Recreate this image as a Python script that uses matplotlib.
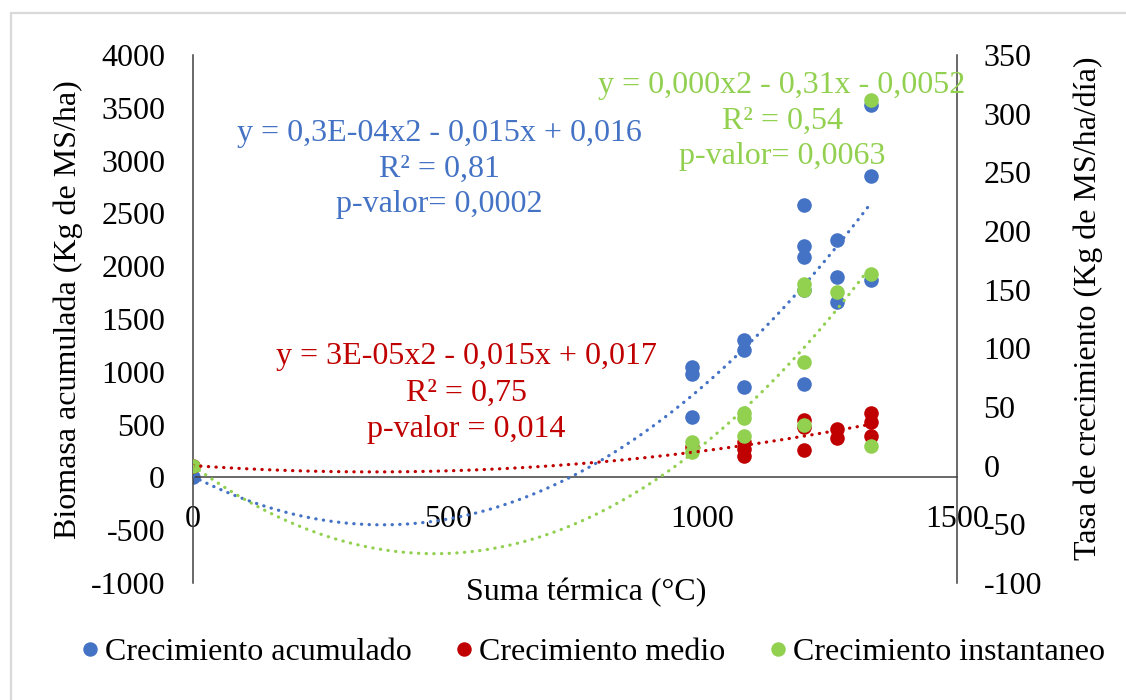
import numpy as np
import matplotlib
matplotlib.use("Agg")
import matplotlib.pyplot as plt
from matplotlib.lines import Line2D
from matplotlib.patches import Rectangle

plt.rcParams['font.family'] = ['Liberation Serif', 'DejaVu Serif']
plt.rcParams['axes.unicode_minus'] = False

# data: suma termica (°C) vs. biomasa / tasa de crecimiento
x_acum = [0, 980, 980, 980, 1082, 1082, 1082, 1200, 1200, 1200, 1200, 1200,
          1264, 1264, 1264, 1331, 1331, 1331]
y_acum = [0, 1041, 975, 568, 1297, 1203, 852, 2576, 2188, 2083, 1770, 880,
          2244, 1894, 1657, 3523, 2850, 1865]

x_medio = [0, 980, 1082, 1082, 1082, 1200, 1200, 1200, 1264, 1264, 1331, 1331, 1331]
y_medio = [0, 16, 20, 14, 8, 39, 33, 13, 31, 24, 45, 37, 25]

x_inst = [0, 980, 980, 1082, 1082, 1082, 1200, 1200, 1200, 1200, 1264, 1331, 1331, 1331]
y_inst = [0, 20, 12, 45, 41, 25, 155, 150, 88, 35, 148, 312, 163, 17]

names = ['Crecimiento acumulado', 'Crecimiento medio', 'Crecimiento instantaneo']
colors = ['#4472C4', '#C00000', '#92D050']

eq_text = [
    'y = 0,3E-04x2 - 0,015x + 0,016\nR² = 0,81\np-valor= 0,0002',
    'y = 3E-05x2 - 0,015x + 0,017\nR² = 0,75\np-valor = 0,014',
    'y = 0,000x2 - 0,31x - 0,0052\nR² = 0,54\np-valor= 0,0063',
]

W, H = 1126, 700
FS = 23


def fx(px):
    return px / W


def fy(py):
    return 1 - py / H


fig = plt.figure(figsize=(W / 100, H / 100), dpi=100)
fig.patches.append(Rectangle((fx(11), fy(760)), fx(1200), fy(13) - fy(760),
                             transform=fig.transFigure, fill=False,
                             edgecolor='#D9D9D9', lw=1.6))

ax = fig.add_axes([fx(193), fy(583), fx(957) - fx(193), fy(55) - fy(583)])
ax2 = ax.twinx()

ax.set_xlim(0, 1500)
ax.set_ylim(-1000, 4000)
ax2.set_ylim(-100, 350)
ax.set_xticks([0, 500, 1000, 1500])
ax.set_yticks(np.arange(-1000, 4001, 500))
ax2.set_yticks(np.arange(-100, 351, 50))

for a in (ax, ax2):
    a.set_facecolor('none')
    a.spines['top'].set_visible(False)
ax.spines['right'].set_visible(False)
ax.spines['bottom'].set_position(('data', 0))
ax2.spines['left'].set_visible(False)
ax2.spines['bottom'].set_visible(False)
for sp in (ax.spines['left'], ax.spines['bottom'], ax2.spines['right']):
    sp.set_color('#404040')
    sp.set_linewidth(1.1)

ax.tick_params(axis='x', length=0, pad=20, labelsize=FS)
ax.tick_params(axis='y', length=0, pad=20, labelsize=FS)
ax2.tick_params(axis='y', length=0, pad=19, labelsize=FS)


def trend(a, xs, ys, color):
    coef = np.polyfit(xs, ys, 2)
    xx = np.linspace(min(xs), max(xs), 200)
    a.plot(xx, np.polyval(coef, xx), color=color, lw=2.3,
           linestyle=(0, (0.1, 2.3)), dash_capstyle='round', zorder=3)


ax.scatter(x_acum, y_acum, s=110, color=colors[0], zorder=2, linewidths=0)
trend(ax, x_acum, y_acum, colors[0])
ax2.scatter(x_medio, y_medio, s=110, color=colors[1], zorder=2, linewidths=0)
ax2.scatter(x_inst, y_inst, s=110, color=colors[2], zorder=2, linewidths=0)
trend(ax2, x_medio, y_medio, colors[1])
trend(ax2, x_inst, y_inst, colors[2])

# equation labels
fig.text(fx(439), fy(169), eq_text[0], color=colors[0], fontsize=FS,
         ha='center', va='center', linespacing=1.3)
fig.text(fx(466), fy(393), eq_text[1], color=colors[1], fontsize=FS,
         ha='center', va='center', linespacing=1.35)
fig.text(fx(782), fy(121), eq_text[2], color=colors[2], fontsize=FS,
         ha='center', va='center', linespacing=1.3)

# axis titles
fig.text(fx(586), fy(593), 'Suma térmica (°C)', fontsize=FS, ha='center', va='center')
fig.text(fx(68), fy(310), 'Biomasa acumulada (Kg de MS/ha)', fontsize=FS,
         ha='center', va='center', rotation=90)
fig.text(fx(1088), fy(308), 'Tasa de crecimiento (Kg de MS/ha/día)', fontsize=FS,
         ha='center', va='center', rotation=90)

handles = [Line2D([], [], marker='o', linestyle='none', color=c, markersize=9.4)
           for c in colors]
fig.legend(handles, names, loc='center', bbox_to_anchor=(fx(594), fy(652)),
           ncol=3, frameon=False, fontsize=FS, handlelength=0.45,
           handletextpad=0.25, columnspacing=1.41, borderaxespad=0)

fig.savefig('out.png', dpi=100)
